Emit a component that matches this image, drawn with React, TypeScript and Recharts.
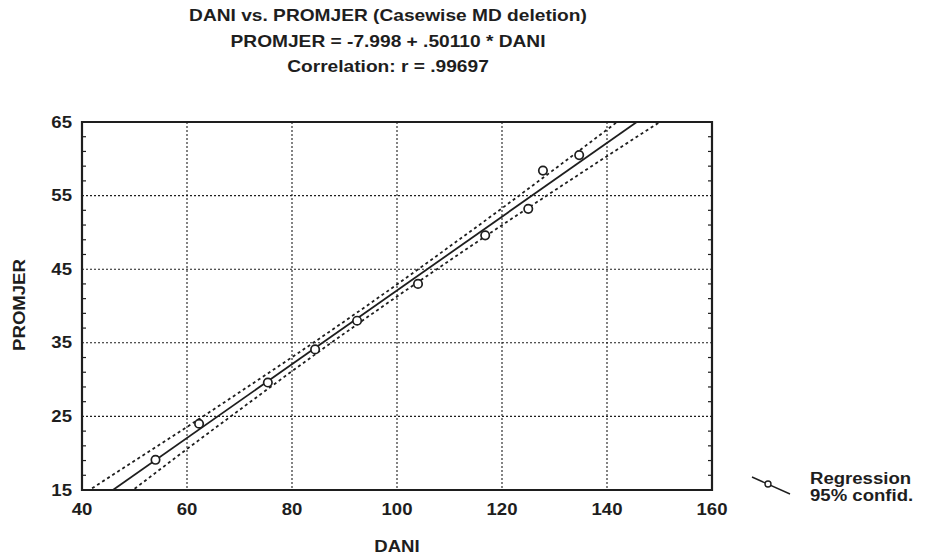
import React from 'react';
import {
  ComposedChart,
  XAxis,
  YAxis,
  CartesianGrid,
  Line,
  Scatter,
  ReferenceArea,
} from 'recharts';

// observed cases (DANI, PROMJER)
const dani = [54, 62.3, 75.4, 84.4, 92.4, 104, 116.8, 125, 127.8, 134.7];
const promjer = [19.1, 24.0, 29.6, 34.1, 38.0, 43.0, 49.6, 53.2, 58.4, 60.5];

// fitted line PROMJER = -7.998 + .50110 * DANI, end points
const regDani = [40, 160];
const regPromjer = [12.05, 72.18];

// 95% confidence band
const bandDani = [40, 50, 60, 70, 80, 95, 110, 120, 130, 140, 150];
const bandUpper = [14.35, 18.96, 23.57, 28.28, 33.04, 40.41, 48.07, 53.28, 58.59, 63.96, 69.37];
const bandLower = [9.75, 15.16, 20.57, 25.88, 31.14, 38.81, 46.17, 50.98, 55.69, 60.36, 64.97];

const xTicks = [40, 60, 80, 100, 120, 140, 160];
const yTicks = [15, 25, 35, 45, 55, 65];
const xMinor = [46.67, 53.33, 66.67, 73.33, 86.67, 93.33, 106.67, 113.33, 126.67, 133.33, 146.67, 153.33];
const yMinor = [17, 19, 21, 23, 27, 29, 31, 33, 37, 39, 41, 43, 47, 49, 51, 53, 57, 59, 61, 63];

const points = dani.map((x, i) => ({ x, y: promjer[i] }));
const regression = regDani.map((x, i) => ({ x, y: regPromjer[i] }));
const upper = bandDani.map((x, i) => ({ x, y: bandUpper[i] }));
const lower = bandDani.map((x, i) => ({ x, y: bandLower[i] }));

const ink = '#1e1e1e';
const font = '"Liberation Sans", Arial, sans-serif';
const stretch = 1.16;

const Circle = (props: any) => {
  const { cx, cy } = props;
  if (cx == null || cy == null) return null;
  return <circle cx={cx} cy={cy} r={4.2} fill="#fff" stroke={ink} strokeWidth={1.7} />;
};

// wide tick text, the scan is a bit stretched sideways
const WideTick = (props: any) => {
  const { x, y, payload, textAnchor, verticalAnchor } = props;
  const dy = verticalAnchor === 'start' ? '0.71em' : '0.355em';
  return (
    <text
      x={x}
      y={y}
      dy={dy}
      textAnchor={textAnchor}
      transform={`translate(${x},0) scale(${stretch},1) translate(${-x},0)`}
      fill={ink}
      fontSize={16}
      fontWeight={700}
      fontFamily={font}
    >
      {payload.value}
    </text>
  );
};

const wide: React.CSSProperties = { transform: `scaleX(${stretch})`, whiteSpace: 'nowrap' };
const minorLine = { stroke: ink, strokeWidth: 1.2 };
const noLabel = { fill: 'none', fontSize: 1 };

export default function App() {
  return (
    <div style={{ position: 'relative', width: 917, height: 548, fontFamily: font, color: ink, background: '#fff' }}>
      <div style={{ position: 'absolute', left: 0, width: 760, top: -5, textAlign: 'center', fontSize: 16.5, fontWeight: 700, lineHeight: '25.5px' }}>
        <div style={wide}>DANI vs. PROMJER (Casewise MD deletion)</div>
        <div style={wide}>PROMJER = -7.998 + .50110 * DANI</div>
        <div style={wide}>Correlation: r = .99697</div>
      </div>
      <ComposedChart
        width={917}
        height={548}
        margin={{ top: 114, right: 213, bottom: 26, left: 0 }}
      >
        <CartesianGrid stroke={ink} strokeDasharray="2 2" strokeWidth={1.1} />
        <XAxis
          type="number"
          dataKey="x"
          domain={[40, 160]}
          ticks={xTicks}
          allowDataOverflow
          height={40}
          tick={<WideTick />}
          tickLine={false}
          axisLine={false}
          tickMargin={8}
        />
        <YAxis
          type="number"
          dataKey="y"
          domain={[15, 65]}
          ticks={yTicks}
          allowDataOverflow
          width={74}
          tick={<WideTick />}
          tickLine={false}
          axisLine={false}
          tickMargin={4}
        />
        <XAxis xAxisId="minor" type="number" domain={[40, 160]} ticks={xMinor} allowDataOverflow mirror tick={noLabel} tickSize={4} axisLine={false} tickLine={minorLine} />
        <YAxis yAxisId="minor" type="number" domain={[15, 65]} ticks={yMinor} allowDataOverflow mirror tick={noLabel} tickSize={4} axisLine={false} tickLine={minorLine} />
        <YAxis yAxisId="minorR" orientation="right" type="number" domain={[15, 65]} ticks={yMinor} allowDataOverflow mirror tick={noLabel} tickSize={4} axisLine={false} tickLine={minorLine} />
        <ReferenceArea x1={40} x2={160} y1={15} y2={65} fill="none" stroke={ink} strokeWidth={2.2} />
        <Line data={upper} dataKey="y" type="monotone" stroke={ink} strokeWidth={1.8} strokeDasharray="3 3" dot={false} isAnimationActive={false} />
        <Line data={lower} dataKey="y" type="monotone" stroke={ink} strokeWidth={1.8} strokeDasharray="3 3" dot={false} isAnimationActive={false} />
        <Line data={regression} dataKey="y" type="linear" stroke={ink} strokeWidth={1.8} dot={false} isAnimationActive={false} />
        <Scatter data={points} dataKey="y" shape={<Circle />} isAnimationActive={false} />
      </ComposedChart>
      <div style={{ position: 'absolute', left: 0, top: 297, width: 24, height: 0 }}>
        <div style={{ position: 'absolute', left: 12, top: 0, transform: `translate(-50%, -50%) rotate(-90deg) scaleX(${stretch})`, fontSize: 16, fontWeight: 700, whiteSpace: 'nowrap' }}>
          PROMJER
        </div>
      </div>
      <div style={{ position: 'absolute', left: 389, top: 530, transform: `translateX(-50%) scaleX(${stretch})`, fontSize: 16, fontWeight: 700 }}>
        DANI
      </div>
      <svg style={{ position: 'absolute', left: 742, top: 466 }} width={50} height={30}>
        <line x1={2} y1={3} x2={40} y2={20} stroke={ink} strokeWidth={1.4} />
        <circle cx={18} cy={10} r={3} fill="#fff" stroke={ink} strokeWidth={1.4} />
      </svg>
      <div style={{ position: 'absolute', left: 802, top: 462, fontSize: 16, fontWeight: 700, lineHeight: '17px', transformOrigin: 'left center', ...wide }}>
        <div>Regression</div>
        <div>95% confid.</div>
      </div>
    </div>
  );
}
